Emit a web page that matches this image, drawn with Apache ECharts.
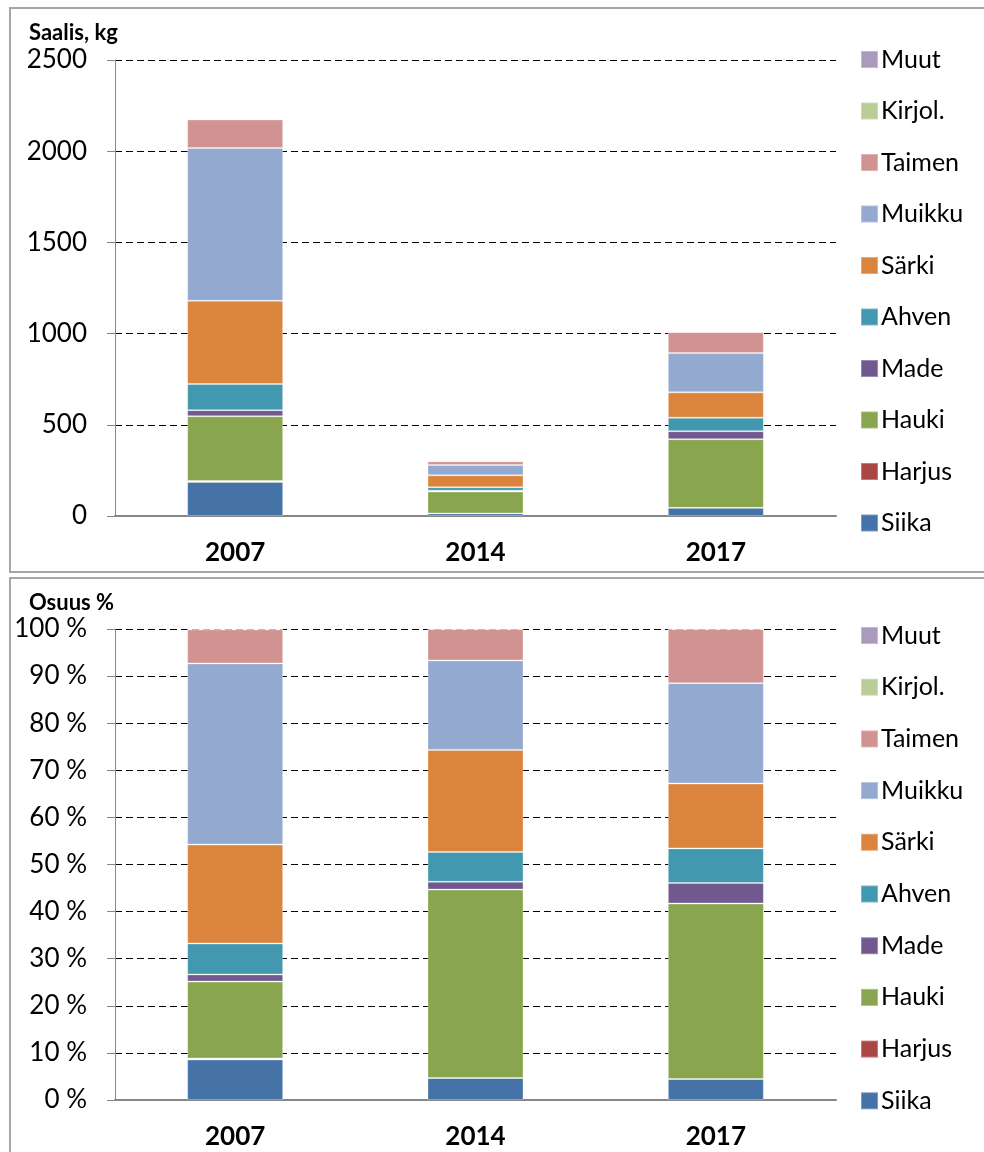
<!DOCTYPE html>
<html>
<head>
<meta charset="utf-8">
<script src="https://cdn.jsdelivr.net/npm/echarts@6/dist/echarts.min.js"></script>
<style>
  html, body { margin: 0; padding: 0; background: #fff; }
  #main { width: 984px; height: 1152px; }
</style>
</head>
<body>
<div id="main"></div>
<script>
// saalis kg per laji
var years = ['2007', '2014', '2017'];
var siika = [187, 14, 45];
var harjus = [5, 0, 0];
var hauki = [355, 120, 376];
var made = [33, 5, 44];
var ahven = [143, 19, 74];
var sarki = [457, 65, 139];
var muikku = [837, 57, 215];
var taimen = [157, 20, 116];
var kirjol = [0, 0, 0];
var muut = [2, 0, 0];

var kgTicks = [0, 500, 1000, 1500, 2000, 2500];

var lajit = [
    { name: 'Siika', data: siika, color: '#4572A7' },
    { name: 'Harjus', data: harjus, color: '#AA4643' },
    { name: 'Hauki', data: hauki, color: '#89A54E' },
    { name: 'Made', data: made, color: '#71588F' },
    { name: 'Ahven', data: ahven, color: '#4198AF' },
    { name: 'Särki', data: sarki, color: '#DB843D' },
    { name: 'Muikku', data: muikku, color: '#93A9CF' },
    { name: 'Taimen', data: taimen, color: '#D19392' },
    { name: 'Kirjol.', data: kirjol, color: '#B9CD96' },
    { name: 'Muut', data: muut, color: '#A99BBD' }
];

// vuoden kokonaissaalis osuuksia varten
var totals = years.map(function (y, i) {
    var s = 0;
    lajit.forEach(function (l) { s += l.data[i]; });
    return s;
});

var font = 'Lato';
var legendNames = lajit.map(function (l) { return l.name; }).reverse();

var series = [];
lajit.forEach(function (l) {
    series.push({
        name: l.name, type: 'bar', stack: 'kg',
        xAxisIndex: 0, yAxisIndex: 0,
        barWidth: 96,
        data: l.data,
        itemStyle: { color: l.color, borderColor: 'rgba(255,255,255,0.3)', borderWidth: 1 }
    });
    series.push({
        name: l.name, type: 'bar', stack: 'pct',
        xAxisIndex: 1, yAxisIndex: 1,
        barWidth: 96,
        data: l.data.map(function (v, i) { return v / totals[i] * 100; }),
        itemStyle: { color: l.color, borderColor: 'rgba(255,255,255,0.3)', borderWidth: 1 }
    });
});

function legend(top, gap) {
    return {
        orient: 'vertical', left: 855, top: top,
        data: legendNames,
        icon: 'rect', itemWidth: 17, itemHeight: 17, itemGap: gap,
        textStyle: { fontFamily: font, fontSize: 25, lineHeight: 24, color: '#000', padding: [0, 0, 0, -2] }
    };
}

var xAx = function (gi) {
    return {
        type: 'category', gridIndex: gi, data: years,
        axisLine: { lineStyle: { color: '#868686', width: 2 } },
        axisTick: { show: false },
        axisLabel: { fontFamily: font, fontSize: 26, fontWeight: 'bold', color: '#000', margin: 24 }
    };
};

var splitDash = { show: true, lineStyle: { color: '#000', type: [7, 4], width: 1.2 } };

var chart = echarts.init(document.getElementById('main'));
chart.setOption({
    animation: false,
    backgroundColor: '#fff',
    title: [
        { text: 'Saalis, kg', left: 24, top: 17, textStyle: { fontFamily: font, fontSize: 22, fontWeight: 'bold', color: '#000' } },
        { text: 'Osuus %', left: 24, top: 587, textStyle: { fontFamily: font, fontSize: 22, fontWeight: 'bold', color: '#000' } }
    ],
    graphic: [
        { type: 'polyline', shape: { points: [[990, 8], [10, 8], [10, 572], [990, 572]] }, style: { stroke: '#a6a6a6', lineWidth: 2, fill: null } },
        { type: 'polyline', shape: { points: [[990, 578], [10, 578], [10, 1160]] }, style: { stroke: '#a6a6a6', lineWidth: 2, fill: null } }
    ],
    legend: [legend(42, 26.5), legend(618, 26.7)],
    grid: [
        { left: 115, top: 60, width: 721, height: 456 },
        { left: 115, top: 629, width: 721, height: 471 }
    ],
    xAxis: [xAx(0), xAx(1)],
    yAxis: [
        {
            type: 'value', gridIndex: 0, min: kgTicks[0], max: kgTicks[kgTicks.length - 1], interval: 500,
            axisLine: { show: true, lineStyle: { color: '#868686' } },
            axisTick: { show: true, length: 8, lineStyle: { color: '#868686' } },
            axisLabel: { fontFamily: font, fontSize: 26, color: '#000', margin: 28, formatter: function (v) { return String(v); } },
            splitLine: splitDash
        },
        {
            type: 'value', gridIndex: 1, min: 0, max: 100, interval: 10,
            axisLine: { show: true, lineStyle: { color: '#868686' } },
            axisTick: { show: true, length: 8, lineStyle: { color: '#868686' } },
            axisLabel: { fontFamily: font, fontSize: 26, color: '#000', margin: 28, formatter: '{value} %' },
            splitLine: splitDash
        }
    ],
    series: series
});
</script>
</body>
</html>
